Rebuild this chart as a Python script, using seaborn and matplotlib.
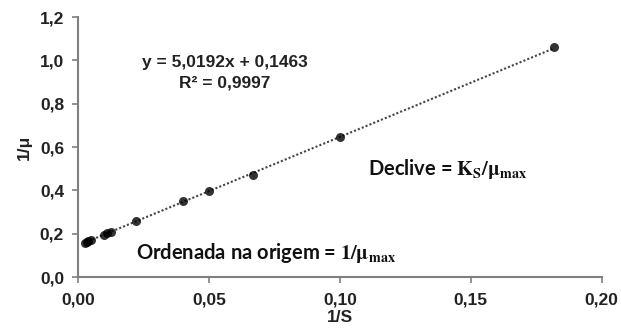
import numpy as np
import pandas as pd
import matplotlib
matplotlib.use("Agg")
import matplotlib.pyplot as plt
import seaborn as sns

# Lineweaver-Burk data (1/S vs 1/mu)
inv_s = [0.0025, 0.0033, 0.0040, 0.0050, 0.0100, 0.0111, 0.0125,
         0.0222, 0.0400, 0.0500, 0.0667, 0.1000, 0.1818]
inv_mu = [0.159, 0.163, 0.167, 0.172, 0.196, 0.202, 0.209,
          0.258, 0.350, 0.397, 0.470, 0.645, 1.060]
x_ticks = [0.00, 0.05, 0.10, 0.15, 0.20]
y_ticks = [0.0, 0.2, 0.4, 0.6, 0.8, 1.0, 1.2]

df = pd.DataFrame({"inv_s": inv_s, "inv_mu": inv_mu})

sns.set_style("white")
plt.rcParams["font.family"] = ["Liberation Sans", "DejaVu Sans"]
plt.rcParams["mathtext.fontset"] = "stix"

fs = 12.5
fig = plt.figure(figsize=(6.21, 3.30), dpi=100)
ax = fig.add_axes([0.1256, 0.1606, 0.8434, 0.7874])

sns.regplot(data=df, x="inv_s", y="inv_mu", ci=None, ax=ax,
            scatter_kws=dict(s=42, color="black", zorder=3, linewidths=0),
            line_kws=dict(color="#444444", linestyle=(0, (1, 1)), linewidth=1.5))

ax.set_xlim(0, 0.2)
ax.set_ylim(0, 1.2)
ax.set_xticks(x_ticks)
ax.set_yticks(y_ticks)
ax.set_xticklabels([f"{v:.2f}".replace(".", ",") for v in x_ticks],
                   fontsize=fs, fontweight="bold", color="#222222")
ax.set_yticklabels([f"{v:.1f}".replace(".", ",") for v in y_ticks],
                   fontsize=fs, fontweight="bold", color="#222222")
ax.tick_params(axis="x", direction="out", length=4, width=1.2,
               color="#7f7f7f", pad=7, bottom=True)
ax.tick_params(axis="y", direction="out", length=4, width=1.2,
               color="#7f7f7f", pad=6, left=True)
for side in ["top", "right"]:
    ax.spines[side].set_visible(False)
for side in ["left", "bottom"]:
    ax.spines[side].set_color("#7f7f7f")
    ax.spines[side].set_linewidth(1.5)

ax.set_xlabel("1/S", fontsize=fs, fontweight="bold", labelpad=2, color="#222222")
ax.set_ylabel("1/\u03bc", fontsize=fs, fontweight="bold", labelpad=6, color="#222222")

ax.text(0.056, 0.99, "y = 5,0192x + 0,1463", ha="center", va="center",
        fontsize=fs, fontweight="bold", color="#222222")
ax.text(0.056, 0.895, "R\u00b2 = 0,9997", ha="center", va="center",
        fontsize=fs, fontweight="bold", color="#222222")

ax.text(0.141, 0.50, r"Declive = $\mathbf{K_S/\mu_{max}}$", ha="center",
        va="center", fontsize=14.5, fontweight="bold", family="Lato",
        color="#111111")
ax.text(0.0718, 0.11, r"Ordenada na origem = $\mathbf{1/\mu_{max}}$",
        ha="center", va="center", fontsize=14.5, fontweight="bold",
        family="Lato", color="#111111")

fig.savefig("out.png", dpi=100)
